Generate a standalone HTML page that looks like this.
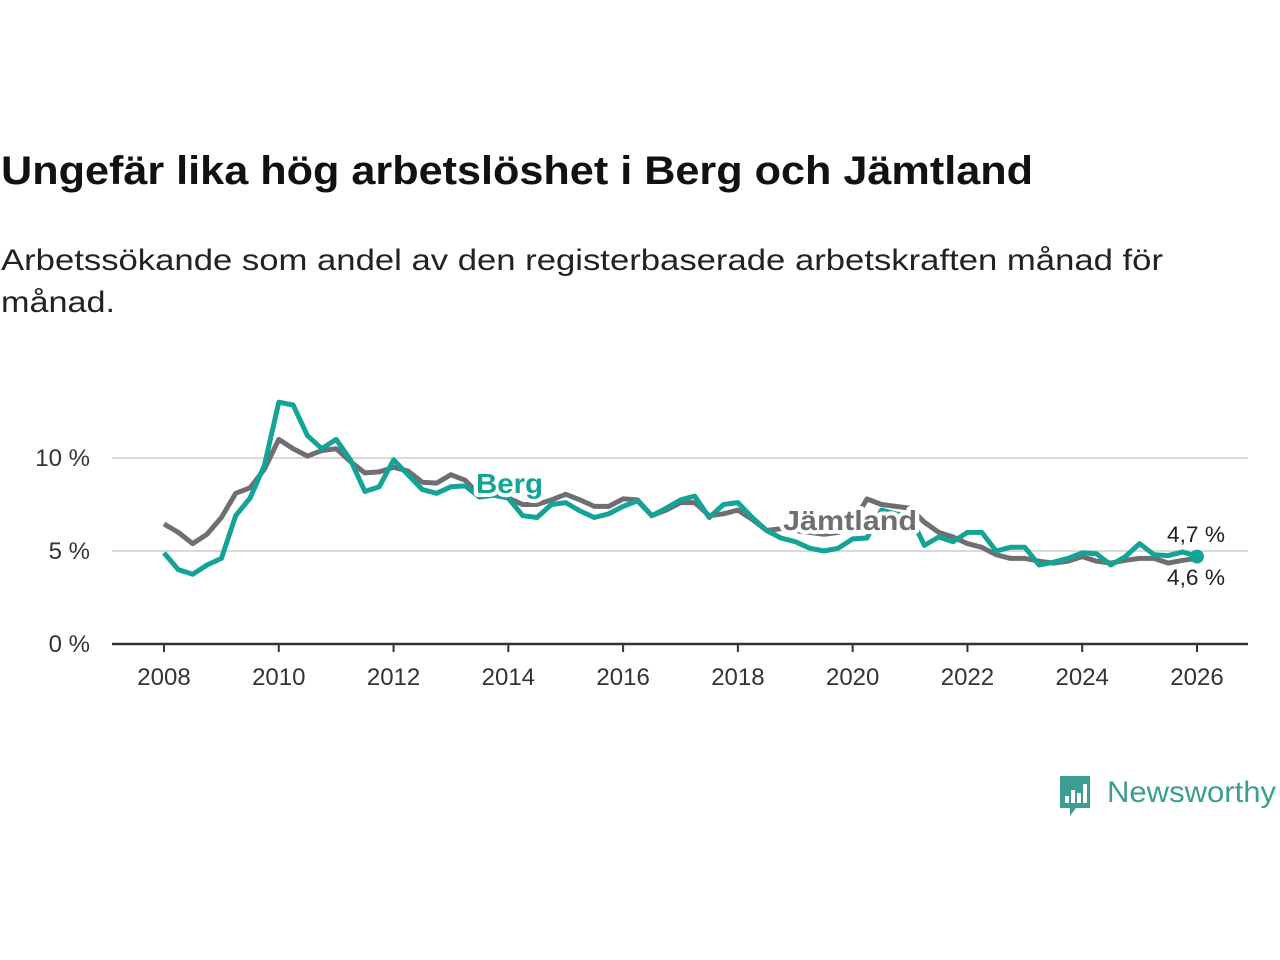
<!DOCTYPE html>
<html><head><meta charset="utf-8"><style>
html,body{margin:0;padding:0;background:#fff;}
svg{display:block;font-family:"Liberation Sans",sans-serif;}
</style></head><body>
<svg width="1280" height="960" viewBox="0 0 1280 960">
<text x="1" y="184" font-size="40" font-weight="bold" fill="#111" textLength="1032" lengthAdjust="spacingAndGlyphs">Ungefär lika hög arbetslöshet i Berg och Jämtland</text>
<text x="1" y="270" font-size="30" fill="#222" textLength="1162" lengthAdjust="spacingAndGlyphs">Arbetssökande som andel av den registerbaserade arbetskraften månad för</text>
<text x="1" y="312" font-size="30" fill="#222" textLength="114" lengthAdjust="spacingAndGlyphs">månad.</text>
<g id="axes"></g>
<g id="series"></g>
<g id="labels"></g>
<g>
<path d="M1060 776 h30 v32 h-14 l-6 8 v-8 h-10 z" fill="#3a9e92"/>
<rect x="1065" y="796" width="4" height="7" fill="#fff"/><rect x="1071" y="790" width="4" height="13" fill="#fff"/><rect x="1077" y="793" width="4" height="10" fill="#fff"/><rect x="1083" y="784" width="4" height="19" fill="#fff"/>
<text x="1107" y="802" font-size="30" fill="#3a9e92" textLength="169" lengthAdjust="spacingAndGlyphs">Newsworthy</text>
</g>
</svg>
<script>
const years=[2008,2010,2012,2014,2016,2018,2020,2022,2024,2026];
const yTicks=[0,5,10];
const t0=2008;
const jamtland=[6.45,6.0,5.4,5.9,6.8,8.1,8.4,9.4,11.0,10.5,10.1,10.4,10.5,9.8,9.2,9.25,9.5,9.3,8.7,8.65,9.1,8.8,8.0,8.0,7.85,7.5,7.5,7.75,8.05,7.75,7.4,7.4,7.8,7.75,6.9,7.2,7.6,7.6,6.9,7.0,7.2,6.7,6.1,6.2,6.1,6.0,5.9,6.0,6.5,7.8,7.5,7.4,7.3,6.55,6.0,5.75,5.4,5.2,4.8,4.6,4.6,4.45,4.35,4.45,4.7,4.45,4.35,4.5,4.6,4.6,4.35,4.5,4.6];
const berg=[4.9,4.0,3.75,4.25,4.6,6.9,7.85,9.6,13.0,12.85,11.2,10.5,11.0,9.9,8.2,8.45,9.9,9.1,8.3,8.1,8.45,8.5,7.9,8.0,7.85,6.9,6.8,7.5,7.6,7.15,6.8,7.0,7.4,7.7,6.9,7.3,7.75,7.95,6.8,7.5,7.6,6.8,6.1,5.7,5.5,5.15,5.0,5.15,5.65,5.7,7.2,7.0,6.9,5.3,5.75,5.5,6.0,6.0,5.0,5.2,5.2,4.25,4.4,4.6,4.9,4.85,4.25,4.7,5.4,4.8,4.75,4.95,4.7];
const xs=v=>164+(v-2008)*(1197-164)/18;
const ys=v=>644-v*18.6;
const NS='http://www.w3.org/2000/svg';
function mk(tag,attrs,parent){const e=document.createElementNS(NS,tag);for(const k in attrs)e.setAttribute(k,attrs[k]);parent.appendChild(e);return e;}
const ax=document.getElementById('axes');
yTicks.forEach(v=>{
 if(v>0){const g=mk('line',{x1:112,x2:1248,y1:ys(v),y2:ys(v),stroke:'#d9d9d9','stroke-width':2},ax);
 
 }
 const t=mk('text',{x:90,y:ys(v)+8,'text-anchor':'end','font-size':24,fill:'#333'},ax);t.textContent=v+' %';
 
 
});
const base=mk('line',{x1:112,x2:1248,y1:644,y2:644,stroke:'#333','stroke-width':2.5},ax);


years.forEach(y=>{
 const tk=mk('line',{x1:xs(y),x2:xs(y),y1:644,y2:652,stroke:'#333','stroke-width':2},ax);
 
 
 const t=mk('text',{x:xs(y),y:685,'text-anchor':'middle','font-size':24,fill:'#333'},ax);t.textContent=y;
 
 
});
const se=document.getElementById('series');
function pathOf(arr){return arr.map((v,i)=>(i?'L':'M')+xs(t0+i*0.25).toFixed(1)+' '+ys(v).toFixed(1)).join(' ');}
const pj=mk('path',{d:pathOf(jamtland),fill:'none',stroke:'#6f6f73','stroke-width':5,'stroke-linejoin':'round'},se);


const pb=mk('path',{d:pathOf(berg),fill:'none',stroke:'#14a497','stroke-width':5,'stroke-linejoin':'round'},se);


const li=berg.length-1;
const dot=mk('circle',{cx:xs(t0+li*0.25),cy:ys(berg[li]),r:7,fill:'#14a497'},se);


const lb=document.getElementById('labels');
const l1=mk('text',{x:476,y:493,'font-size':28,'font-weight':'bold',fill:'#14a497',stroke:'#fff','stroke-width':8,'paint-order':'stroke','stroke-linejoin':'round',textLength:67,lengthAdjust:'spacingAndGlyphs'},lb);l1.textContent='Berg';


const l2=mk('text',{x:783,y:530,'font-size':28,'font-weight':'bold',fill:'#6f6f73',stroke:'#fff','stroke-width':8,'paint-order':'stroke','stroke-linejoin':'round',textLength:134,lengthAdjust:'spacingAndGlyphs'},lb);l2.textContent='Jämtland';


const e1=mk('text',{x:1167,y:542,'font-size':22,fill:'#222',textLength:58,lengthAdjust:'spacingAndGlyphs'},lb);e1.textContent=String(berg[li]).replace('.',',')+' %';


const e2=mk('text',{x:1167,y:585,'font-size':22,fill:'#222',textLength:58,lengthAdjust:'spacingAndGlyphs'},lb);e2.textContent=String(jamtland[li]).replace('.',',')+' %';


</script>
</body></html>
